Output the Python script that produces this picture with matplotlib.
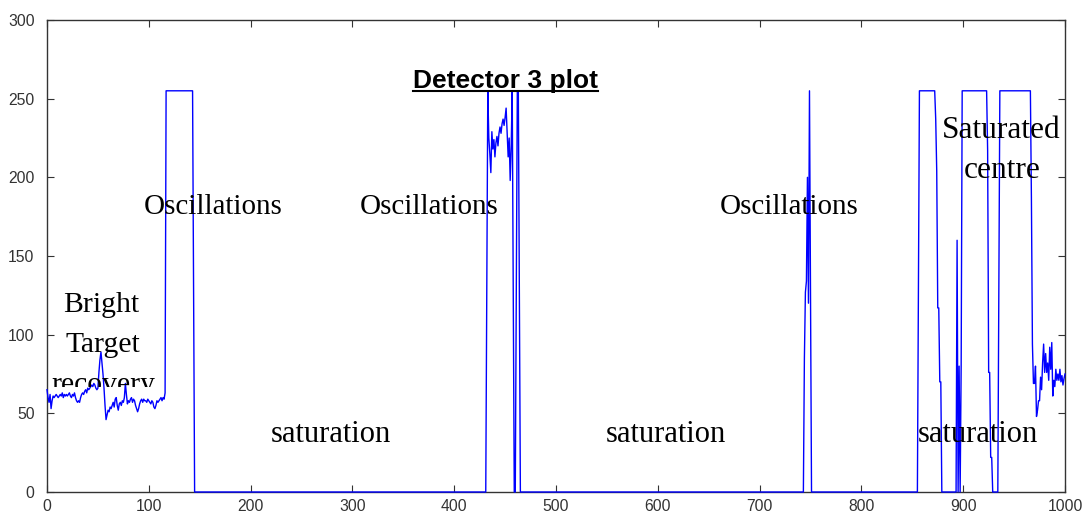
import matplotlib
matplotlib.use("Agg")
import matplotlib.pyplot as plt
from matplotlib.lines import Line2D
from matplotlib.transforms import Bbox, TransformedBbox

# ---------------- data ----------------
# bright target recovery (samples 0..116)
seg1_x = list(range(0, 117))
seg1_y = [65, 60, 57, 62, 53, 58, 61, 60, 61, 62, 61, 60, 61, 62, 61, 63, 60, 62, 61, 62,
          61, 62, 63, 61, 60, 62, 61, 63, 60, 58, 57, 58, 57, 60, 62, 63, 62, 64, 65, 63,
          66, 65, 66, 67, 68, 67, 69, 68, 66, 65, 66, 76, 84, 89, 82, 75, 66, 55, 46, 49,
          52, 51, 54, 53, 55, 57, 54, 59, 60, 55, 52, 56, 57, 55, 58, 57, 60, 69, 62, 56,
          58, 57, 59, 60, 57, 59, 58, 55, 53, 51, 53, 56, 58, 59, 57, 59, 58, 58, 57, 59,
          58, 57, 56, 58, 57, 54, 53, 55, 58, 57, 58, 59, 60, 58, 60, 59, 63]

seg2_x = [117, 143, 144, 145, 431, 432, 433, 434]
seg2_y = [255, 255, 130, 0, 0, 127, 255, 225]

# noisy part inside second oscillation (435..456)
seg3_x = list(range(435, 457))
seg3_y = [215, 203, 229, 218, 224, 213, 222, 226, 220, 228, 232, 228, 234, 237, 233,
          238, 244, 228, 213, 225, 198, 220]

seg4_x = [457, 458, 459, 460, 461, 462, 463, 464, 465, 743, 744, 745, 746, 747, 748,
          749, 750, 751, 855, 856, 857, 872, 873, 874, 875, 876, 877, 878, 879, 893,
          894, 895, 896, 897, 898, 899, 923, 924, 925, 926, 927, 928, 929, 934, 935,
          936, 966, 967, 968, 969]
seg4_y = [255, 127, 0, 0, 127, 255, 255, 127, 0, 0, 85, 127, 134, 200, 120,
          255, 125, 0, 0, 128, 255, 255, 237, 204, 117, 117, 70, 70, 0, 0,
          160, 0, 80, 0, 80, 255, 255, 217, 76, 76, 22, 22, 0, 0, 127,
          255, 255, 187, 94, 69]

# recovery after saturated centre (970..1000)
seg5_x = list(range(970, 1001))
seg5_y = [69, 80, 48, 52, 58, 58, 73, 65, 82, 94, 76, 88, 76, 82, 71, 92, 78, 95, 61,
          71, 67, 78, 71, 75, 71, 78, 70, 74, 68, 72, 75]

sample_x = seg1_x + seg2_x + seg3_x + seg4_x + seg5_x
detector_value = seg1_y + seg2_y + seg3_y + seg4_y + seg5_y

x_ticks = [0, 100, 200, 300, 400, 500, 600, 700, 800, 900, 1000]
y_ticks = [0, 50, 100, 150, 200, 250, 300]

title_text = "Detector 3 plot"
osc_labels = [("Oscillations", 163.6, 176.5), ("Oscillations", 375.7, 176.5),
              ("Oscillations", 729.4, 176.5)]
sat_labels = [("saturation", 278.5, 32), ("saturation", 608, 32), ("saturation", 914.5, 32)]
bright_lines = [("Bright", 53, 114.3), ("Target", 55, 89.2), ("recovery", 55, 63.8)]
centre_lines = [("Saturated", 937.6, 224.9), ("centre", 938.6, 199.4)]

# ---------------- figure ----------------
W, H, DPI = 1082, 521, 100
fig = plt.figure(figsize=(W / DPI, H / DPI), dpi=DPI)
ax = fig.add_axes([47 / W, (H - 492) / H, (1065 - 47) / W, (492 - 20) / H])

ax.plot(sample_x, detector_value, color="#0000ff", lw=1.0, zorder=3, clip_on=False)

ax.set_xlim(0, 1000)
ax.set_ylim(0, 300)
ax.set_xticks(x_ticks)
ax.set_yticks(y_ticks)
ax.tick_params(direction="in", length=5, width=0.8, top=True, right=True,
               labelsize=11.3, colors="#333333")
ax.tick_params(axis="x", pad=5)
ax.tick_params(axis="y", pad=9)
for lab in ax.get_xticklabels() + ax.get_yticklabels():
    lab.set_fontfamily("Liberation Sans")
for sp in ax.spines.values():
    sp.set_color("#333333")
    sp.set_linewidth(1.0)

serif = "Liberation Serif"
for txt, x, y in osc_labels:
    ax.text(x, y, txt, ha="center", va="baseline", fontsize=20.9, family=serif,
            color="black", zorder=4)
for txt, x, y in sat_labels:
    ax.text(x, y, txt, ha="center", va="baseline", fontsize=22, family=serif,
            color="black", zorder=4)
for txt, x, y in centre_lines:
    ax.text(x, y, txt, ha="center", va="baseline", fontsize=22.6, family=serif,
            color="black", zorder=4)

clip_box = TransformedBbox(Bbox([[-50, 66.8], [300, 300]]), ax.transData)
for txt, x, y in bright_lines:
    t = ax.text(x, y, txt, ha="center", va="baseline", fontsize=21.3, family=serif,
                color="black", zorder=4, clip_on=True)
    t.set_clip_box(clip_box)

title = ax.text(450.4, 256.8, title_text, ha="center", va="baseline", fontsize=19,
                fontweight="bold", family="Liberation Sans", color="black", zorder=4)

# underline for the title
fig.canvas.draw()
renderer = fig.canvas.get_renderer()
bb = title.get_window_extent(renderer=renderer)
base_px = ax.transData.transform((450.4, 256.8))[1]
inv = fig.transFigure.inverted()
(ux0, uy), (ux1, _) = inv.transform([(bb.x0, base_px - 3.5), (bb.x1, base_px - 3.5)])
fig.add_artist(Line2D([ux0, ux1], [uy, uy], color="black", lw=1.5))

fig.savefig("out.png", dpi=DPI)
